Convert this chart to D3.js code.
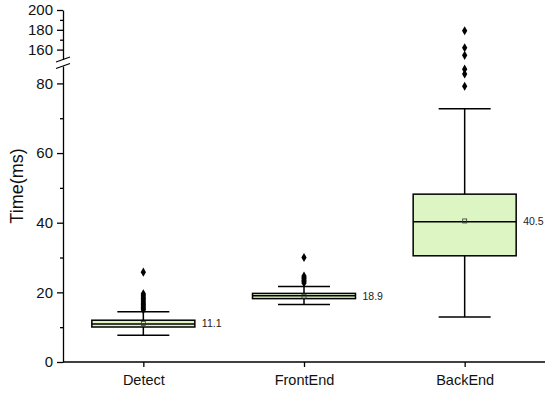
<!DOCTYPE html>
<html>
<head>
<meta charset="utf-8">
<script src="https://cdn.jsdelivr.net/npm/d3@7"></script>
<style>
  body { margin: 0; background: #fff; }
  svg { font-family: "Liberation Sans", Arial, sans-serif; }
</style>
</head>
<body>
<svg id="chart" width="550" height="393"></svg>
<script>
// data
const categories = ["Detect", "FrontEnd", "BackEnd"];
const q1 = [10.05, 18.2, 30.5];
const medians = [10.9, 19.0, 40.3];
const q3 = [12.0, 19.7, 48.2];
const whiskerLow = [7.7, 16.5, 12.9];
const whiskerHigh = [14.4, 21.7, 72.7];
const means = [11.1, 18.9, 40.5];
const outliers = [
  [25.8, 19.6, 19.2, 18.7, 18.2, 17.8, 17.3, 16.9, 16.5, 16.1, 15.7, 15.3, 15.0],
  [30.0, 24.7, 24.3, 23.9, 23.5, 23.1, 22.7],
  [179.1, 161.9, 154.2, 84.1, 82.7, 79.2]
];
const lowerTicks = [0, 20, 40, 60, 80];
const lowerMinor = [10, 30, 50, 70];
const upperTicks = [160, 180, 200];
const upperMinor = [170, 190];

const svg = d3.select("#chart");
const left = 63, right = 545, bottom = 362;

const x = d3.scalePoint().domain(categories).range([left, right]).padding(0.5);
const yLow = d3.scaleLinear().domain([0, 85]).range([bottom, 66]);
const yHigh = d3.scaleLinear().domain([150, 200]).range([59.5, 10]);
const y = v => v > 85 ? yHigh(v) : yLow(v);

// y axis, lower segment
const gLow = svg.append("g").attr("transform", `translate(${left},0)`);
gLow.call(d3.axisLeft(yLow).tickValues(lowerTicks).tickSize(6).tickSizeOuter(0).tickPadding(4));
gLow.append("g").call(d3.axisLeft(yLow).tickValues(lowerMinor).tickSize(3).tickFormat(""))
  .select(".domain").remove();

// y axis, upper segment
const gHigh = svg.append("g").attr("transform", `translate(${left},0)`);
gHigh.call(d3.axisLeft(yHigh).tickValues(upperTicks).tickSize(6).tickSizeOuter(0).tickPadding(4));
gHigh.append("g").call(d3.axisLeft(yHigh).tickValues(upperMinor).tickSize(3).tickFormat(""))
  .select(".domain").remove();

svg.selectAll(".tick text").attr("font-size", 15).attr("fill", "#111");
svg.selectAll(".domain, .tick line").attr("stroke", "#000").attr("stroke-width", 1.3);

// break marks
[59.5, 66].forEach(c => {
  svg.append("line")
    .attr("x1", left - 7).attr("y1", c + 2.5)
    .attr("x2", left + 7).attr("y2", c - 2.5)
    .attr("stroke", "#000").attr("stroke-width", 1.3);
});

// x axis
const gx = svg.append("g").attr("transform", `translate(0,${bottom})`);
gx.call(d3.axisBottom(x).tickSize(5).tickSizeOuter(0).tickPadding(8));
gx.select(".domain").attr("d", `M${left},0H${right}`);
gx.selectAll(".domain, .tick line").attr("stroke", "#000").attr("stroke-width", 1.3);
gx.selectAll(".tick text").attr("font-size", 14.5).attr("fill", "#111");

// y title
svg.append("text")
  .attr("transform", "translate(23,186) rotate(-90)")
  .attr("text-anchor", "middle")
  .attr("font-size", 18)
  .attr("fill", "#111")
  .text("Time(ms)");

// boxes
const boxW = 103, capW = 52;
categories.forEach((c, i) => {
  const cx = x(c);
  const g = svg.append("g");
  // whiskers
  g.append("line").attr("x1", cx).attr("x2", cx)
    .attr("y1", y(q3[i])).attr("y2", y(whiskerHigh[i]))
    .attr("stroke", "#000").attr("stroke-width", 1.5);
  g.append("line").attr("x1", cx).attr("x2", cx)
    .attr("y1", y(q1[i])).attr("y2", y(whiskerLow[i]))
    .attr("stroke", "#000").attr("stroke-width", 1.5);
  [whiskerHigh[i], whiskerLow[i]].forEach(v => {
    g.append("line").attr("x1", cx - capW / 2).attr("x2", cx + capW / 2)
      .attr("y1", y(v)).attr("y2", y(v))
      .attr("stroke", "#000").attr("stroke-width", 1.5);
  });
  // box
  g.append("rect")
    .attr("x", cx - boxW / 2).attr("width", boxW)
    .attr("y", y(q3[i])).attr("height", y(q1[i]) - y(q3[i]))
    .attr("fill", "#dcf5c2").attr("stroke", "#000").attr("stroke-width", 1.5);
  g.append("line").attr("x1", cx - boxW / 2).attr("x2", cx + boxW / 2)
    .attr("y1", y(medians[i])).attr("y2", y(medians[i]))
    .attr("stroke", "#000").attr("stroke-width", 1.5);
  // mean marker
  g.append("rect")
    .attr("x", cx - 2).attr("y", y(means[i]) - 2)
    .attr("width", 4).attr("height", 4)
    .attr("fill", "none").attr("stroke", "#333").attr("stroke-width", 0.8);
  // mean label
  g.append("text")
    .attr("x", cx + boxW / 2 + 7).attr("y", y(means[i]))
    .attr("dy", "0.35em")
    .attr("font-size", 10.5).attr("fill", "#222")
    .text(means[i].toFixed(1));
  // outliers
  g.selectAll("path.out").data(outliers[i]).join("path")
    .attr("class", "out")
    .attr("transform", v => `translate(${cx},${y(v)})`)
    .attr("d", d3.symbol(d3.symbolDiamond, 24))
    .attr("fill", "#000");
});
</script>
</body>
</html>
